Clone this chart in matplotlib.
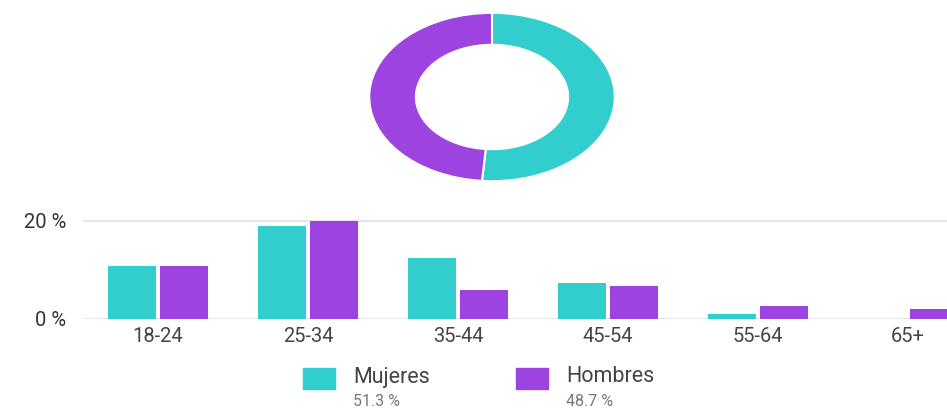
import matplotlib.pyplot as plt
from matplotlib.patches import Rectangle

plt.rcParams['font.family'] = ['Roboto', 'DejaVu Sans']

# datos
generos = ['Mujeres', 'Hombres']
porcentajes = [51.3, 48.7]
edades = ['18-24', '25-34', '35-44', '45-54', '55-64', '65+']
mujeres = [10.8, 19.0, 12.4, 7.3, 1.1, 0.0]
hombres = [10.8, 20.0, 5.9, 6.8, 2.6, 2.0]
yticks = [0, 20]
ytick_labels = ['0 %', '20 %']

colores = ['#32cecd', '#9d44e0']
W, H = 947, 409

fig = plt.figure(figsize=(W / 100, H / 100), dpi=100)

# dona (estirada, como en la imagen)
ax_d = fig.add_axes([368 / W, 1 - 182 / H, 248 / W, 170 / H])
ax_d.pie(porcentajes, colors=colores, startangle=90, counterclock=False,
         radius=1, wedgeprops=dict(width=0.38, edgecolor='white', linewidth=1.5))
ax_d.set_aspect('auto')
ax_d.set_xlim(-1.01, 1.01)
ax_d.set_ylim(-1.01, 1.01)
ax_d.axis('off')

# barras por edad
px = 4.9  # pixeles por punto porcentual
ax = fig.add_axes([83 / W, 1 - 319 / H, 900 / W, 21 * px / H])
x = range(len(edades))
ancho = 0.318
ax.bar([i - 0.172 for i in x], mujeres, width=ancho, color=colores[0], zorder=3)
ax.bar([i + 0.172 for i in x], hombres, width=ancho, color=colores[1], zorder=3)
ax.set_xlim(-0.5, len(edades) - 0.5)
ax.set_ylim(0, 21)
ax.set_yticks(yticks)
ax.set_yticklabels(ytick_labels, fontsize=14.5, color='#333333')
ax.set_xticks(list(x))
ax.set_xticklabels(edades, fontsize=14.5, color='#444444')
ax.tick_params(axis='y', length=0, pad=12)
ax.tick_params(axis='x', length=0, pad=6)
ax.grid(axis='y', color='#e6e6e6', linewidth=1.6, zorder=0)
for s in ax.spines.values():
    s.set_visible(False)

# leyenda
pos_cuadro = [303, 516]
for i in range(2):
    x0 = pos_cuadro[i]
    fig.add_artist(Rectangle((x0 / W, 1 - 389 / H), 32 / W, 21 / H,
                             transform=fig.transFigure, color=colores[i]))
    fig.text((x0 + 50) / W, 1 - 377 / H, generos[i], fontsize=15.5,
             color='#444444', va='center', ha='left')
    fig.text((x0 + 50) / W, 1 - 402 / H, f'{porcentajes[i]} %', fontsize=11.5,
             color='#777777', va='center', ha='left')

plt.savefig('out.png', dpi=100)
